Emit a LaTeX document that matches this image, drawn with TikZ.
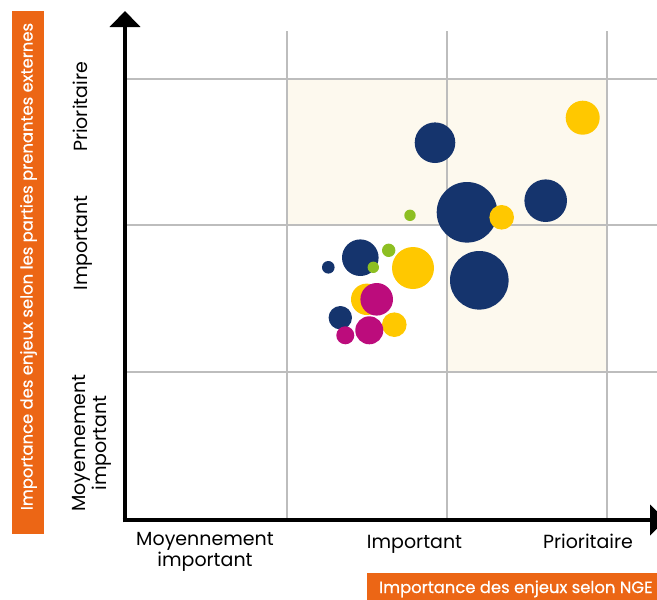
\documentclass[tikz,border=0pt]{standalone}
\usepackage{fontspec}
\setmainfont{Poppins}
\newfontfamily\tagfont{Poppins}[FakeBold=0.5]
\usepackage{xcolor}
\usetikzlibrary{arrows.meta}
\usetikzlibrary{positioning}

\definecolor{navy}{HTML}{15346D}
\definecolor{sun}{HTML}{FFC800}
\definecolor{plum}{HTML}{BC0C7C}
\definecolor{lime}{HTML}{8DBF22}
\definecolor{tangerine}{HTML}{EC6615}
\definecolor{cream}{HTML}{FDF9EE}
\definecolor{gridgray}{HTML}{BDBDBD}

\begin{document}
\begin{tikzpicture}[x=1pt,y=-1pt]
			\tikzset{axis/.style={line width=4.8pt, -{Triangle[width=30pt,length=16pt]}}}
			\tikzset{gridline/.style={draw=gridgray, line width=1.4pt}}
			\tikzset{level/.style={font=\fontsize{19}{21}\selectfont, align=center, inner sep=0pt}}
			\tikzset{tag/.style={fill=tangerine, text=white, inner sep=0pt, font=\tagfont\fontsize{16.4}{19}\selectfont}}
			\useasboundingbox (0,0) rectangle (657,600);
			% zone prioritaire
			\fill[cream] (287,79) rectangle (607,225);
			\fill[cream] (447,225) rectangle (607,372);
			% grille
			\foreach \gx in {287,447,607} \draw[gridline] (\gx,31) -- (\gx,520);
			\foreach \gy in {79,225,372} \draw[gridline] (125,\gy) -- (657,\gy);
			% enjeux
			\foreach \bc/\bx/\by/\br in {
				navy/435/142.7/20.3, sun/582.7/117.7/17, navy/467/212.3/30.3, sun/501.7/217.3/12.3,
				navy/545.7/200.7/21.3, lime/410/215.3/5.7, navy/360.3/257.7/18.3, navy/328.3/267.3/6.3,
				lime/388.7/250.3/6.7, lime/373.3/267.3/5.7, sun/413/268/21, navy/479.3/280.3/29.3,
				sun/366.7/299.3/15.7, plum/376.7/299.3/16.3, navy/340.3/317.7/11.7, sun/394.3/324.7/12.3,
				plum/369.3/330.3/14, plum/345.3/335.3/9}
				\fill[\bc] (\bx,\by) circle (\br);
			% axes
			\coordinate (origin) at (125,520);
			\coordinate (ytip) at (125,11);
			\coordinate (xtip) at (666,520);
			\draw[axis] (125,522.4) -- (ytip);
			\draw[axis] (122.6,520) -- (xtip);
			% niveaux
			\node[level] (xlow) at (205,551.5) {Moyennement\\important};
			\node[level, anchor=base] (xmid) at (414.5,548.3) {Important};
			\node[level, anchor=base] (xhigh) at (588,548.3) {Prioritaire};
			\node[level, rotate=90] (ylow) at (91.5,443) {Moyennement\\important};
			\node[level, rotate=90, anchor=base] (ymid) at (87.5,243) {Important};
			\node[level, rotate=90, anchor=base] (yhigh) at (87.5,107) {Prioritaire};
			% titres
			\fill[tangerine] (12,11) rectangle (44,534);
			\node[tag, rotate=90] (ytitle) at (28.5,266.5) {Importance des enjeux selon les parties prenantes externes};
			\fill[tangerine] (367,573) rectangle (657,600);
			\node[tag, anchor=base west] (xtitle) at (379,593) {Importance des enjeux selon NGE};
		\end{tikzpicture}
\end{document}
